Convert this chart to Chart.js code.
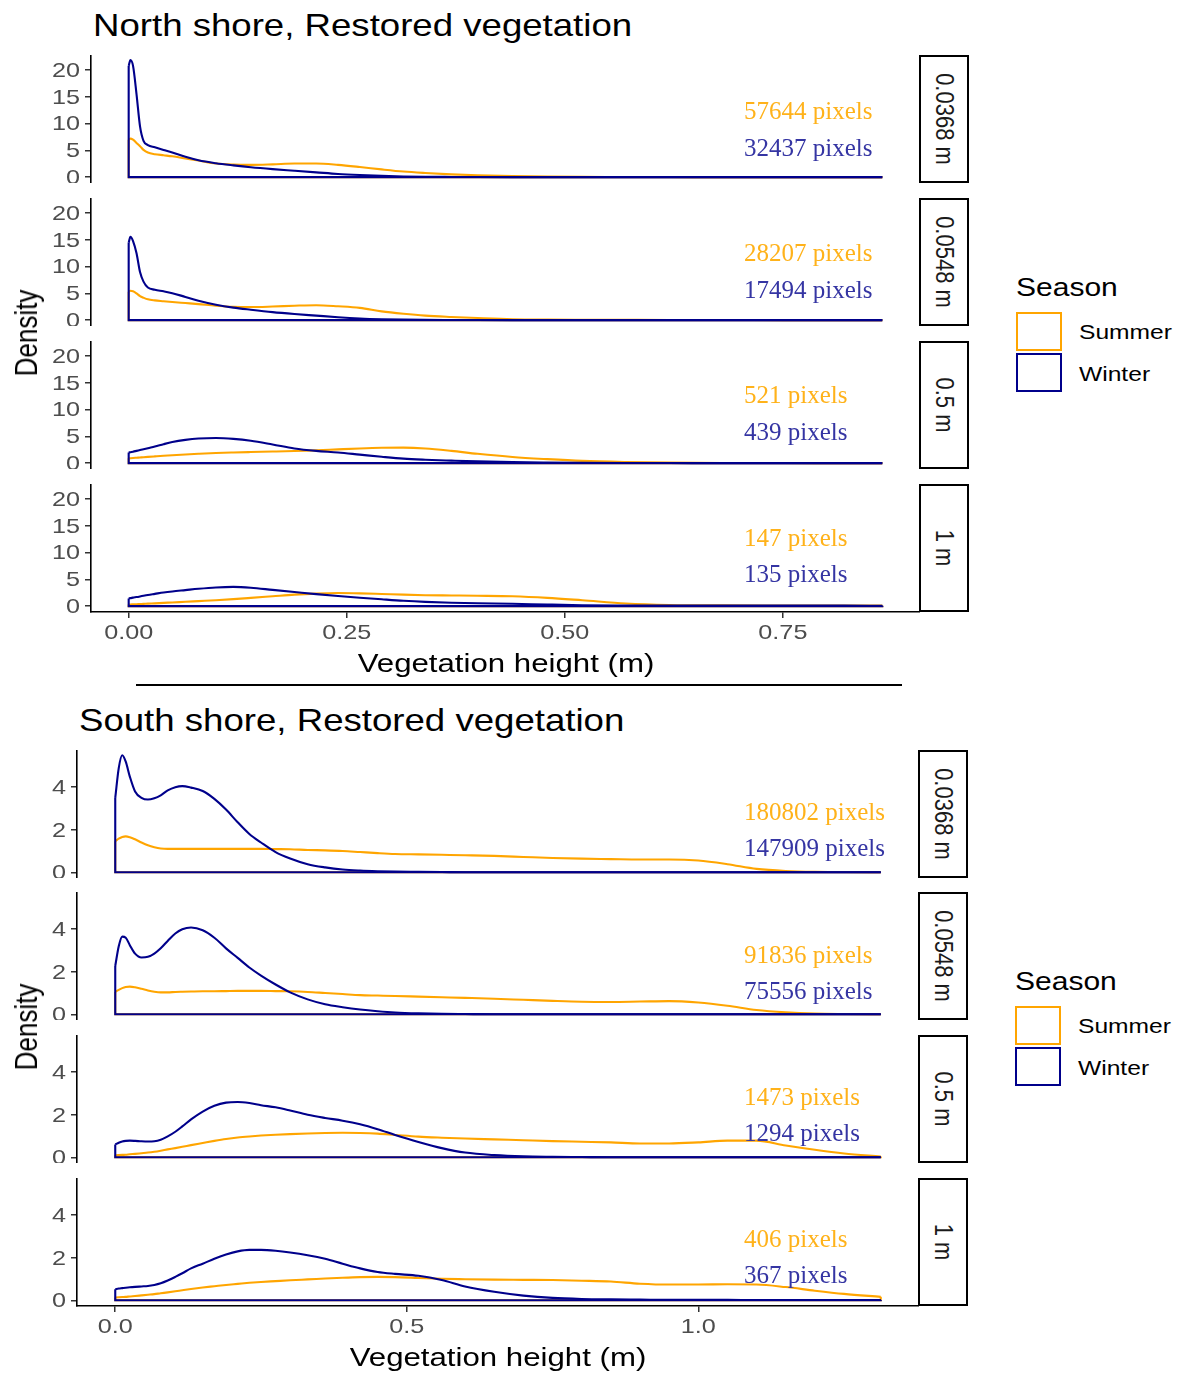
<!DOCTYPE html>
<html>
<head>
<meta charset="utf-8">
<script src="https://cdn.jsdelivr.net/npm/chart.js@4.4.1/dist/chart.umd.min.js"></script>
<style>
  html, body { margin: 0; padding: 0; background: #fff; }
  #page { position: relative; width: 1182px; height: 1374px; overflow: hidden; font-family: "Liberation Sans", Arial, sans-serif; }
  #page canvas { position: absolute; }
  .t { position: absolute; white-space: nowrap; line-height: 1; transform-origin: 0 0; }
  .box { position: absolute; box-sizing: border-box; background: #fff; }
</style>
</head>
<body>
<div id="page"></div>
<script>
// ---- data ----
const stripLabels = ["0.0368 m", "0.0548 m", "0.5 m", "1 m"];

const northX = [0, 0.002, 0.005, 0.009, 0.013, 0.017, 0.022, 0.03, 0.04, 0.05,
  0.065, 0.08, 0.10, 0.12, 0.14, 0.165, 0.19, 0.215, 0.24, 0.265,
  0.29, 0.315, 0.34, 0.37, 0.40, 0.44, 0.48, 0.52, 0.57, 0.62,
  0.68, 0.75, 0.82, 0.864];
const north0368Summer = [7.0, 7.2, 7.0, 6.4, 5.8, 5.1, 4.6, 4.3, 4.1, 3.9,
  3.5, 3.1, 2.55, 2.35, 2.3, 2.4, 2.55, 2.55, 2.3, 1.9,
  1.45, 1.05, 0.78, 0.52, 0.35, 0.2, 0.1, 0.05, 0.03, 0.02,
  0.01, 0.01, 0, 0];
const north0368Winter = [20.8, 21.9, 20.8, 15.5, 9.5, 6.8, 6.0, 5.6, 5.1, 4.6,
  3.8, 3.15, 2.6, 2.2, 1.85, 1.5, 1.2, 0.9, 0.6, 0.4,
  0.25, 0.13, 0.07, 0.04, 0.02, 0.01, 0.01, 0, 0, 0,
  0, 0, 0, 0];
const north0548Summer = [5.3, 5.5, 5.4, 5.0, 4.5, 4.2, 3.9, 3.7, 3.55, 3.4,
  3.2, 3.0, 2.7, 2.5, 2.45, 2.55, 2.7, 2.8, 2.6, 2.3,
  1.65, 1.2, 0.85, 0.6, 0.4, 0.18, 0.1, 0.07, 0.05, 0.04,
  0.03, 0.01, 0, 0];
const north0548Winter = [14.5, 15.6, 14.8, 12.5, 9.0, 7.2, 6.1, 5.7, 5.4, 5.05,
  4.35, 3.65, 2.9, 2.35, 1.95, 1.5, 1.15, 0.85, 0.55, 0.32,
  0.18, 0.1, 0.05, 0.03, 0.02, 0.01, 0, 0, 0, 0,
  0, 0, 0, 0];
const north05Summer = [0.9, 0.93, 0.97, 1.02, 1.07, 1.12, 1.18, 1.27, 1.38, 1.48,
  1.62, 1.75, 1.9, 2.0, 2.08, 2.17, 2.27, 2.4, 2.58, 2.75,
  2.87, 2.9, 2.75, 2.3, 1.75, 1.15, 0.75, 0.43, 0.22, 0.1,
  0.04, 0.02, 0.01, 0];
const north05Winter = [2.0, 2.05, 2.15, 2.3, 2.45, 2.6, 2.8, 3.1, 3.55, 3.95,
  4.35, 4.6, 4.7, 4.55, 4.2, 3.5, 2.75, 2.3, 2.0, 1.6,
  1.2, 0.85, 0.65, 0.48, 0.33, 0.2, 0.13, 0.08, 0.04, 0.02,
  0.01, 0, 0, 0];
const north1Summer = [0.3, 0.32, 0.34, 0.37, 0.4, 0.43, 0.47, 0.53, 0.61, 0.7,
  0.82, 0.95, 1.12, 1.32, 1.55, 1.85, 2.15, 2.35, 2.45, 2.4,
  2.28, 2.15, 2.05, 2.0, 1.95, 1.85, 1.55, 1.1, 0.5, 0.22,
  0.14, 0.12, 0.11, 0.1];
const north1Winter = [1.45, 1.5, 1.6, 1.7, 1.82, 1.95, 2.1, 2.3, 2.55, 2.75,
  3.0, 3.25, 3.5, 3.6, 3.45, 3.05, 2.65, 2.25, 1.9, 1.58,
  1.28, 1.0, 0.8, 0.65, 0.55, 0.45, 0.3, 0.18, 0.13, 0.12,
  0.13, 0.12, 0.1, 0.08];
const northSummerPixels = [57644, 28207, 521, 147];
const northWinterPixels = [32437, 17494, 439, 135];
const northYTicks = [0, 5, 10, 15, 20];
const northXTicks = [0, 0.25, 0.5, 0.75];
const northXTickLabels = ["0.00", "0.25", "0.50", "0.75"];

const southX = [0, 0.006, 0.012, 0.018, 0.025, 0.034, 0.045, 0.056, 0.067, 0.078,
  0.09, 0.103, 0.115, 0.13, 0.15, 0.17, 0.19, 0.21, 0.23, 0.25,
  0.275, 0.3, 0.33, 0.36, 0.39, 0.42, 0.45, 0.48, 0.52, 0.56,
  0.6, 0.65, 0.7, 0.75, 0.8, 0.85, 0.9, 0.95, 1.0, 1.05,
  1.1, 1.15, 1.2, 1.25, 1.313];
const south0368Summer = [1.46, 1.58, 1.66, 1.69, 1.65, 1.55, 1.4, 1.27, 1.18, 1.12,
  1.1, 1.1, 1.1, 1.1, 1.1, 1.1, 1.1, 1.1, 1.1, 1.1,
  1.09, 1.08, 1.05, 1.03, 1.0, 0.95, 0.9, 0.86, 0.84, 0.82,
  0.8, 0.77, 0.72, 0.67, 0.64, 0.62, 0.6, 0.6, 0.55, 0.38,
  0.16, 0.06, 0.02, 0.01, 0];
const south0368Winter = [3.5, 4.9, 5.5, 5.2, 4.5, 3.8, 3.5, 3.42, 3.48, 3.62,
  3.85, 4.0, 4.05, 3.98, 3.82, 3.45, 2.95, 2.35, 1.8, 1.4,
  0.95, 0.65, 0.38, 0.23, 0.13, 0.08, 0.05, 0.03, 0.02, 0.01,
  0, 0, 0, 0, 0, 0, 0, 0, 0, 0,
  0, 0, 0, 0, 0];
const south0548Summer = [1.05, 1.15, 1.23, 1.28, 1.3, 1.27, 1.2, 1.12, 1.06, 1.03,
  1.03, 1.05, 1.06, 1.07, 1.08, 1.08, 1.09, 1.1, 1.1, 1.1,
  1.09, 1.08, 1.05, 1.0, 0.95, 0.9, 0.88, 0.86, 0.83, 0.8,
  0.77, 0.73, 0.68, 0.63, 0.59, 0.58, 0.6, 0.62, 0.55, 0.4,
  0.2, 0.09, 0.03, 0.01, 0];
const south0548Winter = [2.27, 3.2, 3.65, 3.6, 3.25, 2.85, 2.67, 2.7, 2.85, 3.1,
  3.45, 3.8, 4.0, 4.08, 3.95, 3.6, 3.1, 2.65, 2.2, 1.82,
  1.4, 1.03, 0.7, 0.47, 0.33, 0.22, 0.14, 0.08, 0.04, 0.02,
  0.01, 0, 0, 0, 0, 0, 0, 0, 0, 0,
  0, 0, 0, 0, 0];
const south05Summer = [0.09, 0.1, 0.11, 0.12, 0.14, 0.16, 0.19, 0.22, 0.26, 0.31,
  0.37, 0.43, 0.49, 0.57, 0.67, 0.77, 0.86, 0.93, 0.98, 1.02,
  1.06, 1.09, 1.12, 1.14, 1.15, 1.14, 1.11, 1.05, 0.97, 0.92,
  0.88, 0.84, 0.8, 0.76, 0.73, 0.7, 0.65, 0.65, 0.7, 0.78,
  0.78, 0.55, 0.35, 0.18, 0.03];
const south05Winter = [0.6, 0.68, 0.74, 0.77, 0.78, 0.77, 0.75, 0.74, 0.75, 0.82,
  0.98, 1.2, 1.45, 1.78, 2.15, 2.42, 2.57, 2.6, 2.55, 2.45,
  2.35, 2.2, 2.0, 1.85, 1.72, 1.55, 1.32, 1.05, 0.72, 0.43,
  0.22, 0.1, 0.04, 0.02, 0.01, 0, 0, 0, 0, 0,
  0, 0, 0, 0, 0];
const south1Summer = [0.13, 0.14, 0.15, 0.16, 0.18, 0.2, 0.23, 0.26, 0.29, 0.33,
  0.37, 0.42, 0.47, 0.53, 0.6, 0.66, 0.72, 0.77, 0.82, 0.86,
  0.9, 0.94, 0.98, 1.02, 1.06, 1.09, 1.1, 1.09, 1.05, 1.01,
  0.99, 0.97, 0.96, 0.95, 0.92, 0.88, 0.78, 0.74, 0.74, 0.75,
  0.74, 0.62, 0.45, 0.3, 0.16];
const south1Winter = [0.52, 0.55, 0.57, 0.59, 0.61, 0.63, 0.65, 0.67, 0.72, 0.8,
  0.93, 1.1, 1.27, 1.5, 1.72, 1.95, 2.15, 2.3, 2.37, 2.37,
  2.33, 2.25, 2.12, 1.95, 1.72, 1.5, 1.33, 1.24, 1.15, 0.95,
  0.65, 0.4, 0.22, 0.11, 0.06, 0.04, 0.03, 0.02, 0.02, 0.02,
  0.01, 0.01, 0.01, 0.01, 0.01];
const southSummerPixels = [180802, 91836, 1473, 406];
const southWinterPixels = [147909, 75556, 1294, 367];
const southYTicks = [0, 2, 4];
const southXTicks = [0, 0.5, 1.0];
const southXTickLabels = ["0.0", "0.5", "1.0"];

// ---- styling / layout ----
const NAVY = "#00008B";
const ORANGE = "#FFA500";
const SANS = '"Liberation Sans", Arial, sans-serif';
const SERIF = '"Liberation Serif", "Times New Roman", serif';
const SX = 1.2;        // the reference text is a little stretched horizontally
const PANEL_H = 128;
const X_AXIS_H = 40;

const groups = [
  {
    title: "North shore, Restored vegetation", titleX: 93, titleY: 25,
    x: northX,
    summer: [north0368Summer, north0548Summer, north05Summer, north1Summer],
    winter: [north0368Winter, north0548Winter, north05Winter, north1Winter],
    summerPixels: northSummerPixels, winterPixels: northWinterPixels,
    summerTextY: [110, 252, 394, 537], winterTextY: [147, 289, 431, 573],
    yTicks: northYTicks, xTicks: northXTicks, xTickLabels: northXTickLabels,
    xMin: -0.0432, xMax: 0.9072, yMin: -1.09, yMax: 22.84,
    left: 91, right: 920, tops: [55, 198, 341, 484],
    densityY: 333, xTitleY: 663, legendX: 1016, legendY: 287
  },
  {
    title: "South shore, Restored vegetation", titleX: 79, titleY: 720,
    x: southX,
    summer: [south0368Summer, south0548Summer, south05Summer, south1Summer],
    winter: [south0368Winter, south0548Winter, south05Winter, south1Winter],
    summerPixels: southSummerPixels, winterPixels: southWinterPixels,
    summerTextY: [811, 954, 1096, 1238], winterTextY: [847, 990, 1132, 1274],
    yTicks: southYTicks, xTicks: southXTicks, xTickLabels: southXTickLabels,
    xMin: -0.0656, xMax: 1.3786, yMin: -0.27, yMax: 5.75,
    left: 77, right: 919, tops: [750, 892, 1035, 1178],
    densityY: 1027, xTitleY: 1357, legendX: 1015, legendY: 981
  }
];

const page = document.getElementById("page");

function addText(str, x, y, o) {
  const d = document.createElement("div");
  d.className = "t";
  d.textContent = str;
  d.style.left = x + "px";
  d.style.top = y + "px";
  d.style.fontSize = o.size + "px";
  d.style.fontFamily = o.family || SANS;
  d.style.color = o.color || "#000";
  const ax = o.align === "left" ? "0" : "-50%";
  d.style.transform = `scaleX(${o.sx || 1}) rotate(${o.rot || 0}deg) translate(${ax}, -50%)`;
  page.appendChild(d);
}

function addBox(x, y, w, h, border) {
  const b = document.createElement("div");
  b.className = "box";
  b.style.left = x + "px";
  b.style.top = y + "px";
  b.style.width = w + "px";
  b.style.height = h + "px";
  b.style.border = border;
  page.appendChild(b);
}

// tick labels drawn from the chart's own scales, in the same widened Arial as the reference
const wideTickLabels = {
  id: "wideTickLabels",
  afterDraw(chart, args, opts) {
    const { ctx, scales } = chart;
    ctx.save();
    ctx.fillStyle = "#4D4D4D";
    ctx.font = "21px " + SANS;
    ctx.textBaseline = "middle";
    const put = (text, x, y, align) => {
      ctx.save();
      ctx.translate(x, y);
      ctx.scale(SX, 1);
      ctx.textAlign = align;
      ctx.fillText(text, 0, 0);
      ctx.restore();
    };
    const ys = scales.y;
    ys.ticks.forEach((t) => put(String(t.value), ys.right - 11, ys.getPixelForValue(t.value) + 1, "right"));
    const xs = scales.x;
    if (opts.showX) {
      xs.ticks.forEach((t, k) => put(opts.xLabels[k], xs.getPixelForValue(t.value), xs.top + 21, "center"));
    }
    ctx.restore();
  }
};

function makePanel(g, i) {
  const last = i === 3;
  const cv = document.createElement("canvas");
  cv.width = g.right;
  cv.height = PANEL_H + (last ? X_AXIS_H : 0);
  cv.style.left = "0px";
  cv.style.top = g.tops[i] + "px";
  page.appendChild(cv);

  const n = g.x.length - 1;
  const curve = (ys) => g.x.map((x, k) => ({ x, y: ys[k] }));
  // vertical edges and baseline of the density polygon
  const outline = (ys) => [
    { x: g.x[0], y: ys[0] }, { x: g.x[0], y: 0 },
    { x: g.x[n], y: 0 }, { x: g.x[n], y: ys[n] }
  ];
  const axisLine = { display: true, color: "#000", width: 1.6 };
  const tickGrid = { drawOnChartArea: false, drawTicks: true, tickLength: 6, color: "#333", lineWidth: 1.5 };

  new Chart(cv, {
    type: "line",
    data: {
      datasets: [
        { label: "Winter", data: curve(g.winter[i]), borderColor: NAVY, cubicInterpolationMode: "monotone", order: 0 },
        { label: "Winter edge", data: outline(g.winter[i]), borderColor: NAVY, tension: 0, order: 1 },
        { label: "Summer", data: curve(g.summer[i]), borderColor: ORANGE, cubicInterpolationMode: "monotone", order: 2 },
        { label: "Summer edge", data: outline(g.summer[i]), borderColor: ORANGE, tension: 0, order: 3 }
      ]
    },
    options: {
      responsive: false,
      animation: false,
      events: [],
      layout: { padding: 0 },
      elements: { point: { radius: 0 }, line: { borderWidth: 2.1, fill: false } },
      plugins: {
        legend: { display: false },
        tooltip: { enabled: false },
        wideTickLabels: { showX: last, xLabels: g.xTickLabels }
      },
      scales: {
        x: {
          type: "linear", min: g.xMin, max: g.xMax, display: last,
          afterBuildTicks: (s) => { s.ticks = g.xTicks.map((v) => ({ value: v })); },
          afterFit: (s) => { s.height = last ? X_AXIS_H : 0; s.paddingLeft = 0; s.paddingRight = 0; },
          border: axisLine, grid: tickGrid,
          ticks: { display: false }
        },
        y: {
          type: "linear", min: g.yMin, max: g.yMax,
          afterBuildTicks: (s) => { s.ticks = g.yTicks.map((v) => ({ value: v })); },
          afterFit: (s) => { s.width = g.left; s.paddingTop = 0; s.paddingBottom = 0; },
          border: axisLine, grid: tickGrid,
          ticks: { display: false }
        }
      }
    },
    plugins: [wideTickLabels]
  });

  // facet strip on the right
  addBox(g.right - 1, g.tops[i], 50, PANEL_H, "2.5px solid #000");
  addText(stripLabels[i], g.right + 24, g.tops[i] + PANEL_H / 2, { size: 22, rot: 90, sx: SX, color: "#1A1A1A" });

  // pixel counts
  addText(g.summerPixels[i] + " pixels", 744, g.summerTextY[i], { size: 25, family: SERIF, color: "#FFB21A", align: "left" });
  addText(g.winterPixels[i] + " pixels", 744, g.winterTextY[i], { size: 25, family: SERIF, color: "#3535A3", align: "left" });
}

groups.forEach((g) => {
  for (let i = 0; i < 4; i++) makePanel(g, i);

  addText(g.title, g.titleX, g.titleY, { size: 30.5, sx: SX, align: "left" });
  addText("Density", 26, g.densityY, { size: 26, rot: -90, sx: SX });
  addText("Vegetation height (m)", (g.left + g.right) / 2, g.xTitleY, { size: 26, sx: SX });

  // legend
  addText("Season", g.legendX, g.legendY, { size: 25, sx: SX, align: "left" });
  addBox(g.legendX, g.legendY + 25, 46, 39, "2.5px solid " + ORANGE);
  addBox(g.legendX, g.legendY + 66, 46, 39, "2.5px solid " + NAVY);
  addText("Summer", g.legendX + 63, g.legendY + 45, { size: 20.5, sx: SX, align: "left" });
  addText("Winter", g.legendX + 63, g.legendY + 87, { size: 20.5, sx: SX, align: "left" });
});

// separator between the two figures
const sep = document.createElement("div");
sep.style.cssText = "position:absolute;left:136px;top:684px;width:766px;height:2px;background:#000;";
page.appendChild(sep);
</script>
</body>
</html>
